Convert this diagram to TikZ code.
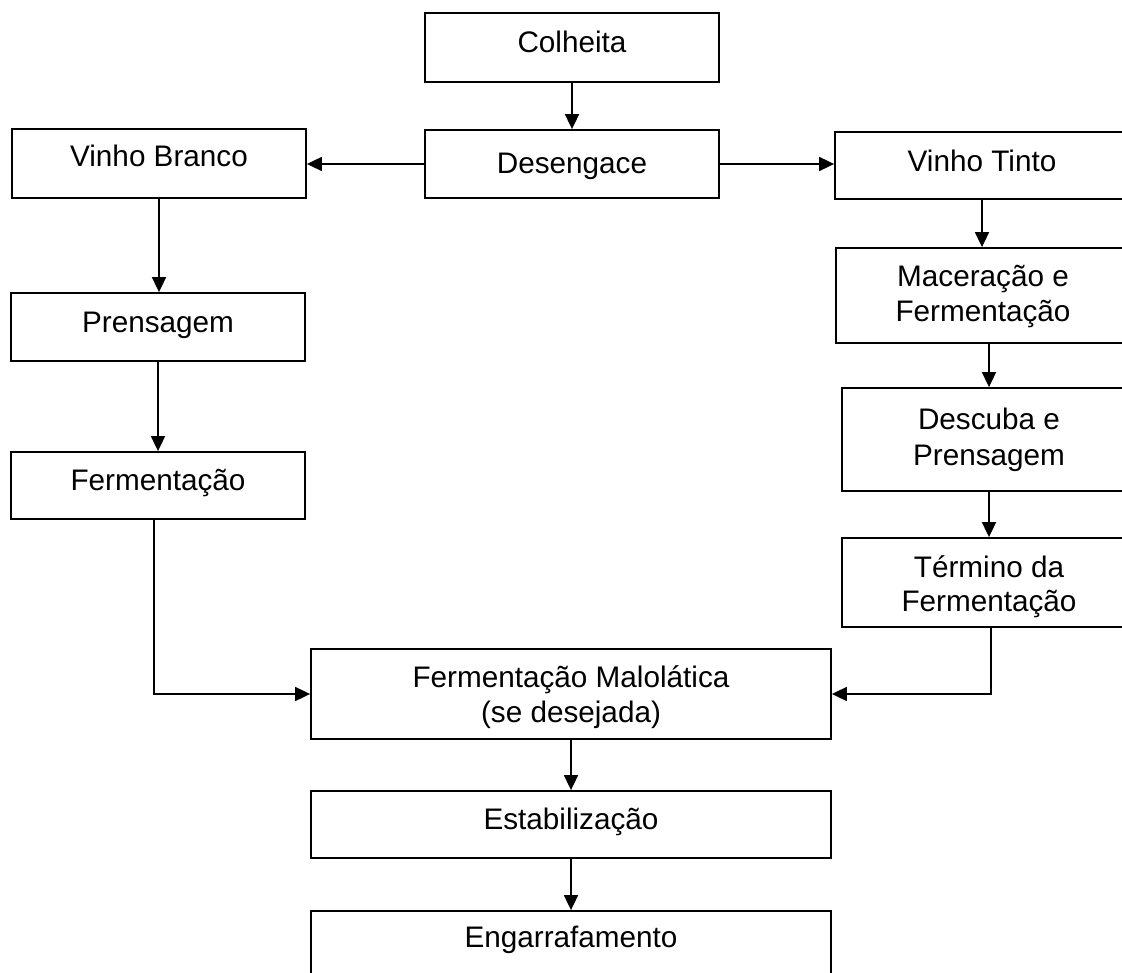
\documentclass[tikz,border=0pt]{standalone}
\usepackage{fontspec}
\setmainfont{Liberation Sans}
\usetikzlibrary{arrows.meta}
\begin{document}
\begin{tikzpicture}[x=1pt,y=-1pt,
  box/.style={draw, line width=1.8pt, inner sep=0pt, minimum width=294pt},
  wide/.style={box, minimum width=520pt},
  lbl/.style={font=\fontsize{29.7}{35}\selectfont, text height=21pt, text depth=0pt, inner sep=0pt},
  arr/.style={-{Triangle[length=15pt,width=14pt]}, line width=1.8pt}]
\useasboundingbox (0,0) rectangle (1122,973);
\clip (0,0) rectangle (1122,973);
% boxes
\node[box, minimum height=69pt, label={[lbl,yshift=5pt]center:Colheita}] (colheita) at (572,47.5) {};
\node[box, minimum height=68pt, label={[lbl,yshift=1pt]center:Desengace}] (deseng) at (572,164) {};
\node[box, minimum height=69pt, label={[lbl,yshift=7pt]center:Vinho Branco}] (branco) at (159,163.5) {};
\node[box, minimum height=67pt, label={[lbl,yshift=4pt]center:Vinho Tinto}] (tinto) at (982,165.5) {};
\node[box, minimum height=95pt, label={[lbl,yshift=19pt]center:Maceração e}, label={[lbl,yshift=-16pt]center:Fermentação}] (macer) at (983,295.5) {};
\node[box, minimum height=68pt, label={[lbl,yshift=4.5pt]center:Prensagem}] (prens) at (158,327) {};
\node[box, minimum height=103pt, label={[lbl,yshift=20pt]center:Descuba e}, label={[lbl,yshift=-15pt]center:Prensagem}] (descuba) at (989,439.5) {};
\node[box, minimum height=67pt, label={[lbl,yshift=5.5pt]center:Fermentação}] (ferm) at (158,485.5) {};
\node[box, minimum height=89pt, label={[lbl,yshift=16pt]center:Término da}, label={[lbl,yshift=-18pt]center:Fermentação}] (termino) at (989,582.5) {};
\node[wide, minimum height=90pt, label={[lbl,yshift=17pt]center:Fermentação Malolática}, label={[lbl,yshift=-18pt]center:(se desejada)}] (malo) at (571,694) {};
\node[wide, minimum height=67pt, label={[lbl,yshift=5.5pt]center:Estabilização}] (estab) at (571,824.5) {};
\node[wide, minimum height=69pt, label={[lbl,yshift=8.5pt]center:Engarrafamento}] (engarr) at (571,945.5) {};
% connectors
\draw[arr] (colheita) -- (deseng);
\draw[arr] (deseng.west) -- (deseng.west -| branco.east);
\draw[arr] (deseng.east) -- (deseng.east -| tinto.west);
\draw[arr] (branco.south) -- (branco.south |- prens.north);
\draw[arr] (prens.south) -- (prens.south |- ferm.north);
\draw[arr] ([xshift=-4pt]ferm.south) |- (malo.west);
\draw[arr] (tinto.south) -- (tinto.south |- macer.north);
\draw[arr] ([xshift=6pt]macer.south) -- ([xshift=6pt]macer.south |- descuba.north);
\draw[arr] (descuba.south) -- (descuba.south |- termino.north);
\draw[arr] ([xshift=2pt]termino.south) |- (malo.east);
\draw[arr] (malo) -- (estab);
\draw[arr] (estab) -- (engarr);
\end{tikzpicture}
\end{document}
